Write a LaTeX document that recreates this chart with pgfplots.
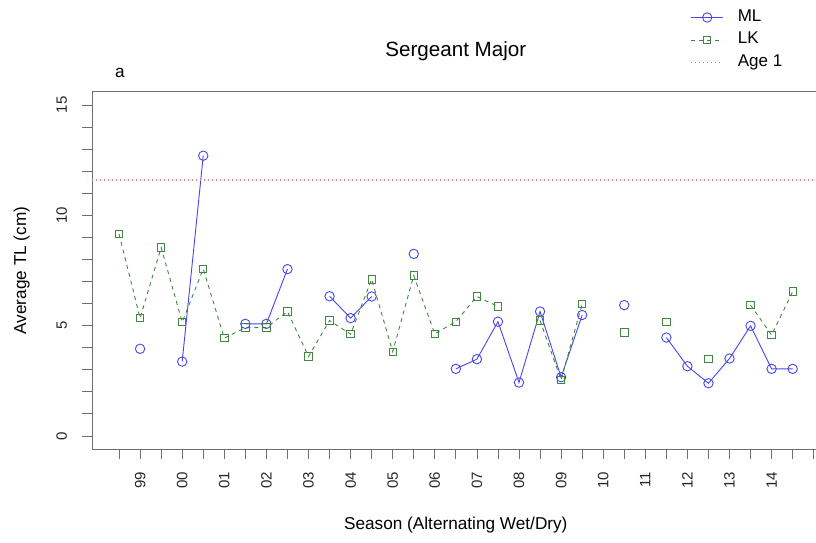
\documentclass[border=0pt]{standalone}
\usepackage{pgfplots}
\pgfplotsset{compat=1.18}
\usepackage{fontspec}
\setmainfont{Liberation Sans}
\definecolor{mlblue}{RGB}{70,70,235}
\definecolor{lkgreen}{RGB}{65,135,65}
\definecolor{agered}{RGB}{245,125,125}
\definecolor{axgrey}{RGB}{110,110,110}
\begin{document}
\begin{tikzpicture}[x=1pt,y=1pt]
\path[use as bounding box] (0,0) rectangle (816,542);
\clip (0,0) rectangle (816,542);
\begin{axis}[
  at={(92.1pt,92.8pt)}, anchor=south west,
  scale only axis, width=727.5pt, height=357.5pt,
  xmin=-0.28, xmax=34.28, ymin=-0.6, ymax=15.6,
  unbounded coords=jump,
  axis line style={draw=axgrey, line width=0.8pt},
  tick style={draw=axgrey, line width=0.8pt},
  tick align=outside, tick pos=left,
  major tick length=10pt,
  xtick={1,...,34},
  xticklabels={{},99,{},00,{},01,{},02,{},03,{},04,{},05,{},06,{},07,{},08,{},09,{},10,{},11,{},12,{},13,{},14,{},{}},
  ytick={0,...,15},
  yticklabels={0,{},{},{},{},5,{},{},{},{},10,{},{},{},{},15},
  xticklabel shift=12.5pt,
  yticklabel shift=15pt,
  xticklabel style={rotate=90, anchor=east, inner sep=0pt, font=\fontsize{15}{18}\selectfont, text=black!85},
  yticklabel style={rotate=90, anchor=south, inner sep=0pt, font=\fontsize{15}{18}\selectfont, text=black!85},
  /pgf/number format/assume math mode=true,
  legend style={at={(0.8228,1.23)}, anchor=north west, draw=none, fill=none,
    inner sep=0pt, outer sep=0pt, row sep=6.5pt, column sep=14pt,
    font=\fontsize{17}{20}\selectfont,
    nodes={inner sep=0pt, text height=12pt, text depth=4pt}},
  legend cell align=left,
  legend image code/.code={\draw[mark repeat=2,mark phase=2,#1] plot coordinates {(0pt,0pt) (16pt,0pt) (32pt,0pt)};},
]
\addplot[color=mlblue, line width=0.9pt, mark=o, mark size=4.7pt, mark options={solid}] coordinates {
(1,nan) (2,3.95) (3,nan) (4,3.37) (5,12.7) (6,nan) (7,5.08) (8,5.08) (9,7.56) (10,nan)
(11,6.33) (12,5.34) (13,6.32) (14,nan) (15,8.25) (16,nan) (17,3.04) (18,3.48) (19,5.18) (20,2.42)
(21,5.64) (22,2.66) (23,5.48) (24,nan) (25,5.93) (26,nan) (27,4.46) (28,3.16) (29,2.39) (30,3.51)
(31,4.99) (32,3.04) (33,3.04)};
\addlegendentry{ML}
\addplot[color=lkgreen, line width=0.9pt, dash pattern=on 4pt off 4pt, mark=square, mark size=3.7pt, mark options={solid}] coordinates {
(1,9.15) (2,5.34) (3,8.54) (4,5.16) (5,7.57) (6,4.43) (7,4.91) (8,4.91) (9,5.64) (10,3.60)
(11,5.23) (12,4.61) (13,7.10) (14,3.82) (15,7.27) (16,4.63) (17,5.18) (18,6.32) (19,5.87) (20,nan)
(21,5.23) (22,2.54) (23,5.98) (24,nan) (25,4.69) (26,nan) (27,5.18) (28,nan) (29,3.48) (30,nan)
(31,5.93) (32,4.57) (33,6.54)};
\addlegendentry{LK}
\addplot[draw=agered, color=agered, line width=1.1pt, dash pattern=on 1.2pt off 2.8pt] coordinates {(-0.28,11.6) (34.28,11.6)};
\addlegendentry{Age 1}
\end{axis}
\node[anchor=base, font=\fontsize{20.6}{24}\selectfont] at (455.8,485) {Sergeant Major};
\node[anchor=base west, font=\fontsize{17.2}{20}\selectfont, inner sep=0pt] at (115,464) {a};
\node[anchor=base, font=\fontsize{17.2}{20}\selectfont, inner sep=0pt] at (455.8,13) {Season (Alternating Wet/Dry)};
\node[anchor=base, rotate=90, font=\fontsize{17.2}{20}\selectfont, inner sep=0pt] at (26,271.5) {Average TL (cm)};
\end{tikzpicture}
\end{document}
